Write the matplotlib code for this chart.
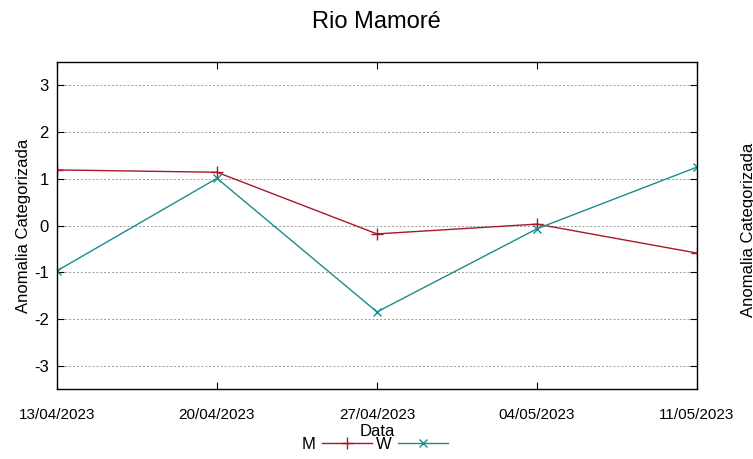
import matplotlib.pyplot as plt

datas = ["13/04/2023", "20/04/2023", "27/04/2023", "04/05/2023", "11/05/2023"]
m_vals = [1.19, 1.14, -0.18, 0.03, -0.59]
w_vals = [-0.97, 1.01, -1.85, -0.07, 1.25]
yticks = [-3, -2, -1, 0, 1, 2, 3]

plt.rcParams['font.family'] = ['Liberation Sans', 'DejaVu Sans']

fig = plt.figure(figsize=(7.53, 4.59), dpi=100)
ax = fig.add_axes([0.0757, 0.1525, 0.8499, 0.7124])

ax.plot(datas, m_vals, color='#a8182a', lw=1, marker='+', ms=8, mew=1, label='M')
ax.plot(datas, w_vals, color='#1a8c8c', lw=1, marker='x', ms=6, mew=1, label='W')

ax.set_xlim(0, len(datas) - 1)
ax.set_ylim(-3.5, 3.5)
ax.set_yticks(yticks)
ax.set_yticklabels([str(v) for v in yticks], fontsize=12)
ax.set_xticks(range(len(datas)))
ax.set_xticklabels(datas, fontsize=11)
ax.yaxis.grid(True, color='#999999', ls=(0, (2, 2)), lw=0.7)
ax.tick_params(axis='both', direction='in', top=True, right=True, length=5)
ax.tick_params(axis='x', pad=14)
ax.tick_params(axis='y', pad=6)
for s in ax.spines.values():
    s.set_linewidth(1)

ax.set_xlabel('Data', fontsize=12, labelpad=1)
ax.set_ylabel('Anomalia Categorizada', fontsize=12, labelpad=2)
fig.suptitle('Rio Mamoré', fontsize=17, y=0.975)

fig.legend(loc='center', bbox_to_anchor=(0.498, 0.032), ncol=2, frameon=False,
           markerfirst=False, handlelength=3, columnspacing=0.2, handletextpad=0.4,
           fontsize=12)

fig.text(0.994, 0.5, 'Anomalia Categorizada', rotation=90, fontsize=12,
         ha='center', va='center')

fig.savefig('out.png', dpi=100)
